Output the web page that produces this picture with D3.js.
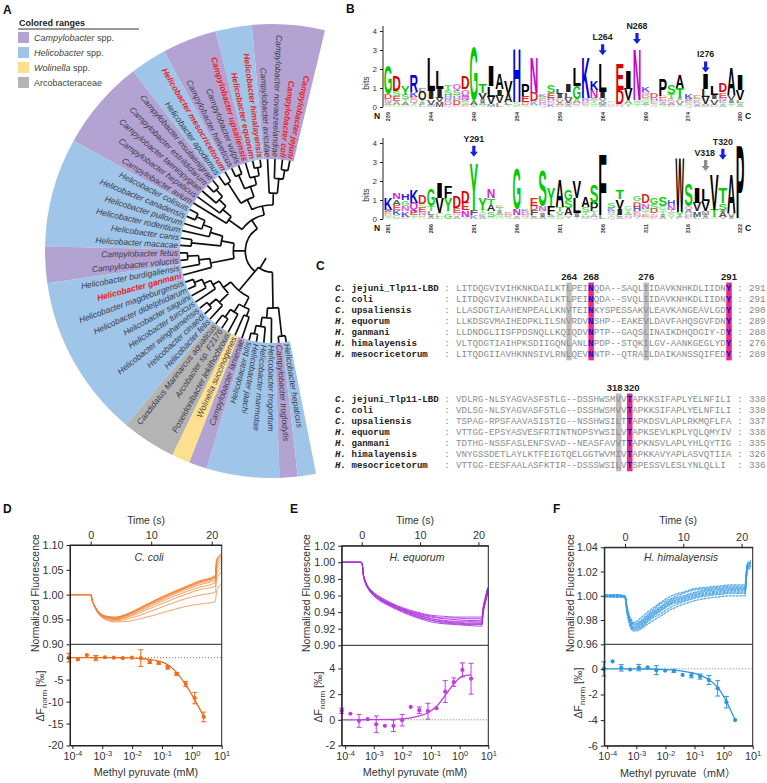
<!doctype html>
<html lang="en">
<head>
<meta charset="utf-8">
<script src="https://d3js.org/d3.v7.min.js"></script>
<title>Tlp11 ligand binding domains</title>
<style>
  html, body { margin: 0; padding: 0; background: #fff; }
  svg { display: block; font-family: "Liberation Sans", Arial, "Noto Sans CJK SC", sans-serif; }
  .tick text { fill: #333; }
  .domain, .tick line { stroke: #222; }
</style>
</head>
<body>
<svg id="fig" width="767" height="783"></svg>
<script>
// ---------- panel A data
const taxa = ["Campylobacter jejuni", "Campylobacter coli", "Campylobacter novaezeelandiae", "Campylobacter aviculae",
  "Helicobacter himalayensis", "Helicobacter equorum", "Campylobacter upsaliensis", "Campylobacter vulpis",
  "Campylobacter helveticus", "Helicobacter mesocricetorum", "Helicobacter apodemus", "Campylobacter insulaenigrae",
  "Campylobacter estrildidarum", "Campylobacter taeniopygiae", "Campylobacter hepaticus", "Campylobacter avium",
  "Helicobacter colisuis", "Helicobacter canadensis", "Helicobacter pullorum", "Helicobacter rodentium",
  "Helicobacter canis", "Helicobacter macacae", "Campylobacter fetus", "Campylobacter volucris",
  "Helicobacter burdigaliensis", "Helicobacter ganmani", "Helicobacter magdeburgensis", "Helicobacter didelphidarum",
  "Helicobacter saguini", "Helicobacter turcicus", "Helicobacter winghamensis", "Helicobacter cinaedi",
  "Helicobacter felis", "Candidatus Marinarcus aquaticus", "Arcobacter sp. F2176", "Poseidonibacter lekithochrous",
  "Wolinella succinogenes", "Campylobacter lanienae", "Helicobacter bilis", "Helicobacter jaachi",
  "Helicobacter marmotae", "Helicobacter trogontum", "Campylobacter troglodytis", "Helicobacter hepaticus"];
const redTaxa = [0, 1, 4, 5, 6, 9, 25];
const ranges = [[0, 4, "Campylobacter"], [4, 6, "Helicobacter"], [6, 9, "Campylobacter"], [9, 11, "Helicobacter"],
  [11, 16, "Campylobacter"], [16, 22, "Helicobacter"], [22, 24, "Campylobacter"], [24, 33, "Helicobacter"],
  [33, 36, "Arcobacteraceae"], [36, 37, "Wolinella"], [37, 38, "Campylobacter"], [38, 42, "Helicobacter"],
  [42, 43, "Campylobacter"], [43, 44, "Helicobacter"]];
const legendItems = ["Campylobacter", "Helicobacter", "Wolinella", "Arcobacteraceae"];
// [branch depth, children...] with numbers being indexes into taxa
const bottomClade = [.23,
  [.56,
    [.66, [.74, [.82, [.91, 26, 27], 28], 29], [.8, [.9, 30, 31], 32]],
    [.68, [.78, [.88, 33, 34], 35], [.76, 36, 37]]],
  [.62, [.73, [.83, [.92, 38, 39], 40], 41], [.93, 42, 43]]];
const treeData = [.29,
  [.4,
    [.5,
      [.63, [.79, [.89, 0, 1], 2], 3],
      [.62, [.74, [.83, [.92, 4, 5], 6], [.9, 7, 8]], [.88, 9, 10]]],
    [.58, [.7, [.8, [.9, 11, 12], 13], 14], 15]],
  [.42,
    [.56, [.7, [.8, [.9, 16, 17], 18], 19], [.88, 20, 21]],
    [.68, [.8, [.92, 22, 23], 24], 25]],
  bottomClade];

// ---------- panel B data: residues bottom to top, letter + bits
const logoTop = ["S.1 A.1 N.2 D.3 G1.5", "G.1 A.2 E.3 S.25 D.8", "G.1 A.15 T.15 S.25 Y.5", "S.1 T.1 Q.2 E.15 K.25 R.9",
  "L.1 I.1 T.15 O.45 F.2", "M.1 V.3 I.45 L1.8", "M.25 V.25 I.45 L.95", "Q.1 D.2 R.15 H.2 S.25 T.3",
  "E.1 D.25 H.2 N.1 S.3 Q.3", "E.1 S.15 A.1 N.3 Q.3 D.7", "S.12 A.23 G2.85", "S.1 A.1 I.2 V.35 T.5",
  "M.15 V.4 L.55 I1.1", "L.2 V.4 I.35 A.85", "T.1 L.15 A.4 I.05 V.7", "D.05 S.2 H2.85", "S.1 D.15 E.35 P.65",
  "G.1 K.2 D.45 N1.85", "Q.1 R.1 D.1 E.1 S.15 K.15", "K.15 N.1 D.1 R.15 E.25 S.4", "D.1 A.1 V.15 E.1 I.25 L.3",
  "A.1 M.1 V.3 L.3 I.4", "S.1 D.1 A.2 G.7 L1", "S.1 E.1 N.1 R.15 K2.15", "S.1 G.1 T.15 A.1 N.45 K.5",
  "A.1 M.15 V.2 I.35 L1.5", "D.05 S.08 N.07 G.05 E.05", "N.1 S.05 D.75 E1.4", "T.15 A.2 V.6 I.95",
  "T.1 G.1 S.15 N2.7", "T.1 A.1 G.15 S.15 D.15 N.15 K.3", "Q.05 S.1 E.1 G.05 H.15 D.3", "S.1 A.1 N.1 E.2 D.1 P.9",
  "D.1 A.1 Q.1 E.1 T.3 S.5", "S.1 V.2 L.05 I.1 T.55 A.7", "Q.1 S.1 E.1 A.1 K.25", "A.1 Q.1 K.1 S.1 E.2",
  "M.1 S.05 V.4 L.4 I.85", "D.1 V.3 I.25 L.5", "A.1 S.1 K.1 N.2 E.3 D.5", "T.1 S.1 I.15 V.3 A1.45", "A.1 S.1 L.15 V.55 I.8"];
const logoBottom = ["S.1 T.05 D.1 E.1 A.15 K.6", "G.2 K.25 E.3 A.3 N.35", "D.1 K.3 N.3 G.3 H.35", "T.1 S.1 E.25 Q.4 K.7",
  "G.1 D.1 N.15 E.25 S.2 D.45", "A.1 I.1 L.2 T.3 G.9", "L.1 C.2 V.8 I.8", "G.3 T.1 Y.7 F.6", "A.1 G.1 N.1 E.3 D.6",
  "S.1 N.35 E.4 D.6", "K.2 F.3 Y2.5", "A.1 K.1 S.1 T.2 Y.6", "G.1 S.3 A.35 T.35 N.45", "G.1 S.1 A.1 I.1 T.2 E.1",
  "S.1 D.1 E.1 A.05", "A.1 S.1 N.35 G2.15", "S.1 N.1 D.15 K.15", "A.1 L.1 F.25 D.25 E.4", "A.1 I.2 T.1 N.3 S1.85",
  "S.1 A.1 F.5 Y.95", "S.2 V.15 T.3 A1.45", "T.1 Q.1 A.4 S.4 G.55", "T.1 I.2 L.8 V.9", "M.1 G.1 T.15 S.3 A.55",
  "Q.1 A.1 T.2 P.45 S1", "L.2 F3.25", "Q.1 T.1 G.1 R.1 K.2 S.3", "A.1 L.1 I.35 V.5 T.5", "N.1 S.1 A.1 T.15 G.2",
  "Y.1 N.15 E.15 H.25 D.3 G.3", "G.1 E.15 T.1 S.2 N.3 D.45", "E.1 N.1 T.1 D.25 S.25 G.35", "A.1 I.1 T.2 Y.1 G.2 S.5",
  "Y.2 V.1 T.2 N.25 H.25", "F.1 Y.25 W2.95", "E.1 H.1 G.1 A.2 Q.2 S1.15", "L.1 M.3 V.45 I.8", "A.1 I.1 M.2 V.55 L.6",
  "S.1 T.4 V1.85", "V.1 A.25 I.15 S.35 T.8", "I.1 V.2 A2.1", "S.05 P3.9"];
const ticksTop = [239, 244, 249, 254, 259, 264, 269, 274, 280];
const ticksBottom = [281, 286, 291, 296, 301, 306, 311, 316, 322];
const arrowsTop = [["L264", 264, 3.3, "blue"], ["N268", 268, 3.9, "blue"], ["I276", 276, 2.4, "blue"]];
const arrowsBottom = [["Y291", 291, 3.85, "blue"], ["V318", 318, 3.1, "gray"], ["T320", 320, 3.7, "blue"]];

// ---------- panel C data
const speciesItalic = ["C.", "C.", "C.", "H.", "H.", "H.", "H."];
const speciesNames = ["jejuni_Tlp11-LBD", "coli", "upsaliensis", "equorum", "ganmani", "himalayensis", "mesocricetorum"];
const seqBlock1 = ["LITDQGVIVIHKNKDAILKTLPEINQDA--SAQLIIDAVKNHKDLIIDNY", "LITDQGVIVIHKNKDAILKTLPEINQDA--SVQLIIDAVKNHKDLIIDNY",
  "LLASDGTIAAHENPEALLKNVTEINKYSPESSAKVLEAVKANGEAVLGDY", "LLKDSGVMAIHEDPKLILSNVRDVNSHP--EAKEVLDAVFAHQSGVFDNY",
  "LLDNDGLIISFPDSNQLLKQIQDVNPTP--GAQSLINAIKDHQDGIY-DY", "VLTQDGTIAIHPKSDIIGQNLANLNPDP--STQKILGV-AANKGEGLYDY",
  "LITQDGIIAVHKNNSIVLRNLQEVNNTP--QTRAILDAIKANSSQIFEDY"];
const endBlock1 = [291, 291, 290, 289, 288, 276, 289];
const seqBlock2 = ["VDLRG-NLSYAGVASFSTLG--DSSHWSMVVTAPKKSIFAPLYELNFILI", "VDLSG-NLSYAGVASFSTLG--DSSHWSMVVTAPKKSIFAPLYELNFILI",
  "TSPAG-RPSFAAVASISTIG--NSSHWSILTTAPKDSVLAPLRKMQFLFA", "VTTGG-EPSYASVESFRTINTNDPSYWSILVTAPKSEVLKPLYQLQMYIV",
  "TDTHG-NSSFASLENFSVAD--NEASFAVVTTAPKNSVLAPLYHLQYTIG", "VNYGSSDETLAYLKTFEIGTQELGGTWVMIVTAPKKAVYAPLASVQTIIA",
  "VTTGG-EESFAALASFKTIR--DSSSWSILVTSPESSVLESLYNLQLLI"];
const endBlock2 = [338, 338, 337, 338, 335, 326, 336];
const marksBlock1 = [[20, "264", "gray"], [24, "268", "pink"], [34, "276", "gray"], [49, "291", "pink"]];
const marksBlock2 = [[29, "318", "gray"], [31, "320", "pink"]];

// ---------- panels D-F data
const conc = [0.0000763, 0.000153, 0.000305, 0.00061, 0.00122, 0.00244, 0.00488, 0.00977, 0.0195, 0.039, 0.078, 0.156, 0.3125, 0.625, 1.25, 2.5];
const doseD = [0, -0.4, 0.6, -0.1, 0.1, 0, -0.1, 0, -0.1, -1, -1.2, -2.2, -3.7, -6, -9.2, -13.5];
const errD = [1, 0, 0, 0.6, 0, 0, 0, 0, 1.9, 0.3, 0.3, 0.4, 0.3, 0.6, 1.3, 1.1];
const fitD = [0, 0, 0, 0, 0, 0, -0.02, -0.05, -0.2, -0.4, -0.8, -1.6, -3.4, -6.2, -9.6, -13.4];
const doseE = [0.7, 0.47, -0.08, 0.05, -0.35, -0.47, -0.47, -0.03, 1, 0.75, 0.67, 0.9, 2.2, 2.93, 3.88, 3.2];
const errE = [0.2, 0, 0.5, 0, 0.65, 0, 0.45, 0.45, 0, 0.25, 0.62, 0, 0.85, 0.33, 0.55, 1.2];
const fitE = [0, 0, 0, 0.01, 0.01, 0.02, 0.03, 0.07, 0.15, 0.3, 0.55, 1.05, 1.9, 2.8, 3.4, 3.5];
const doseF = [0, 0.58, 0.08, -0.05, 0.1, 0.12, -0.1, -0.13, -0.15, -0.47, -0.5, -0.6, -0.87, -1.52, -2.6, -4];
const errF = [0.55, 0, 0.25, 0, 0.25, 0, 0.35, 0, 0.12, 0, 0.2, 0.2, 0.35, 0.6, 0.45, 0];
const fitF = [0, 0, 0, 0, -0.01, -0.01, -0.03, -0.06, -0.1, -0.17, -0.3, -0.48, -0.85, -1.45, -2.55, -4];

const timeD = [-3.4, 0, 0.3, 0.7, 1.2, 2, 3, 4, 6, 8, 10, 12, 14, 16, 18, 20.6, 20.8, 21.2, 21.65];
const tracesD = [
  [1, 1, .986, .974, .963, .953, .947, .945, .946, .951, .957, .964, .971, .977, .981, .986, 1.006, 1.016, 1.022],
  [1, 1, .986, .974, .963, .954, .949, .947, .951, .958, .967, .976, .985, .993, .999, 1.005, 1.03, 1.04, 1.047],
  [1, 1, .986, .975, .964, .955, .951, .949, .954, .963, .973, .983, .993, 1.002, 1.01, 1.017, 1.04, 1.05, 1.056],
  [1, 1, .986, .975, .965, .956, .952, .95, .956, .966, .977, .988, .998, 1.007, 1.015, 1.024, 1.05, 1.058, 1.064],
  [1, 1, .986, .975, .966, .957, .953, .951, .958, .968, .98, .991, 1.002, 1.011, 1.02, 1.029, 1.055, 1.064, 1.069],
  [1, 1, .987, .976, .966, .957, .954, .952, .959, .97, .982, .993, 1.004, 1.014, 1.023, 1.033, 1.06, 1.068, 1.073],
  [1, 1, .987, .976, .966, .958, .954, .953, .96, .971, .983, .995, 1.005, 1.015, 1.025, 1.035, 1.064, 1.072, 1.076],
  [1, 1, .987, .976, .967, .958, .955, .954, .96, .972, .984, .996, 1.006, 1.016, 1.026, 1.036, 1.066, 1.075, 1.078],
  [1, 1, .987, .977, .967, .959, .955, .954, .961, .972, .985, .996, 1.007, 1.017, 1.027, 1.037, 1.068, 1.077, 1.08],
  [1, 1, .987, .977, .967, .959, .956, .955, .961, .973, .985, .997, 1.008, 1.018, 1.028, 1.039, 1.07, 1.079, 1.082]];
const timeE = [-3.4, -0.1, 0.05, 0.3, 0.6, 1, 1.5, 2, 3, 4, 6, 8, 10, 12, 14, 16, 18, 20.6, 20.8, 21.2, 21.6];
const tracesE = [
  [1, 1, .999, .985, .978, .972, .967, .964, .959, .955, .948, .943, .939, .936, .935, .934, .934, .934, .945, .958, .97],
  [1, 1, .999, .985, .978, .971, .967, .963, .958, .954, .947, .942, .938, .935, .933, .933, .932, .932, .944, .957, .969],
  [1, 1, .999, .985, .977, .971, .966, .963, .957, .953, .947, .941, .937, .934, .932, .931, .93, .93, .943, .956, .968],
  [1, 1, .999, .984, .977, .971, .966, .962, .957, .953, .946, .94, .936, .932, .93, .929, .929, .928, .942, .955, .967],
  [1, 1, .999, .984, .977, .97, .965, .962, .956, .952, .945, .94, .935, .932, .929, .928, .927, .927, .94, .954, .966],
  [1, 1, .999, .984, .976, .97, .965, .961, .956, .952, .945, .939, .934, .93, .928, .927, .926, .926, .939, .953, .965],
  [1, 1, .999, .984, .976, .97, .964, .96, .955, .951, .944, .938, .933, .93, .927, .926, .925, .925, .938, .952, .964],
  [1, 1, .999, .983, .975, .969, .964, .96, .954, .95, .943, .937, .932, .928, .926, .925, .924, .923, .937, .951, .962]];
const timeF = [-3.4, -1.5, -0.1, 0.1, 0.3, 0.6, 1, 1.5, 2.5, 4, 6, 8, 10, 12, 14, 16, 18, 20.6, 20.8, 21, 21.6];
const tracesF = [
  [1.001, 1.001, 1, .999, .993, .986, .981, .978, .981, .987, .994, 1, 1.003, 1.006, 1.007, 1.008, 1.009, 1.009, 1.02, 1.027, 1.029],
  [1, 1.001, 1, .998, .992, .985, .98, .977, .979, .985, .993, .998, 1.002, 1.005, 1.006, 1.007, 1.008, 1.008, 1.019, 1.026, 1.028],
  [1, 1, 1, .998, .991, .984, .979, .976, .978, .984, .991, .997, 1, 1.003, 1.005, 1.006, 1.007, 1.007, 1.018, 1.025, 1.027],
  [1, 1, 1, .998, .991, .984, .978, .975, .977, .983, .99, .996, .999, 1.002, 1.004, 1.005, 1.006, 1.006, 1.017, 1.025, 1.027],
  [1, 1, 1, .998, .99, .983, .977, .974, .976, .982, .989, .995, .998, 1.001, 1.003, 1.004, 1.005, 1.005, 1.016, 1.024, 1.026],
  [1, 1, .999, .997, .99, .982, .976, .973, .975, .981, .988, .994, .997, 1, 1.002, 1.003, 1.004, 1.004, 1.015, 1.023, 1.025],
  [1, 1, .999, .997, .989, .982, .975, .973, .974, .98, .987, .993, .996, .999, 1.001, 1.002, 1.003, 1.003, 1.015, 1.023, 1.025],
  [1, .999, .999, .997, .988, .981, .974, .972, .973, .979, .985, .991, .995, .998, 1, 1.001, 1.002, 1.002, 1.014, 1.022, 1.024],
  [.999, .999, .999, .996, .987, .98, .973, .971, .972, .977, .983, .989, .993, .996, .998, .999, 1, 1, 1.013, 1.021, 1.023]];

const svg = d3.select("#fig");
const ink = "#333";

function label(x, y, txt, size, opts = {}) {
  const t = svg.append("text").attr("x", x).attr("y", y).attr("font-size", size)
    .attr("fill", opts.fill || ink).attr("text-anchor", opts.anchor || "middle").text(txt);
  if (opts.bold) t.attr("font-weight", "bold");
  if (opts.italic) t.attr("font-style", "italic");
  if (opts.rotate) t.attr("transform", `rotate(${opts.rotate} ${x} ${y})`);
  return t;
}

[["A", 3, 14], ["B", 346, 13], ["C", 316, 270], ["D", 3, 513], ["E", 290, 513], ["F", 553, 513]]
  .forEach(d => label(d[1], d[2], d[0], 12, { anchor: "start", bold: true, fill: "#111" }));

// ---------- A: fan tree
function drawTree() {
  const cx = 272, cy = 251, innerR = 92, outerR = 227;
  const fill = { Campylobacter: "#b3a3d3", Helicobacter: "#9fc5e8", Wolinella: "#fde08f", Arcobacteraceae: "#b4b4b4" };
  const angle = d3.scaleLinear().domain([0, taxa.length]).range([13.5, -191.2]);
  const radius = d3.scaleLinear().domain([0, 1]).range([0, innerR]);
  const rad = a => a * Math.PI / 180;
  const polar = (a, r) => [cx + r * Math.sin(rad(a)), cy - r * Math.cos(rad(a))];

  const arc = d3.arc().innerRadius(innerR).outerRadius(outerR);
  svg.append("g").attr("transform", `translate(${cx},${cy})`).selectAll("path").data(ranges).join("path")
    .attr("d", d => arc({ startAngle: rad(angle(d[1])), endAngle: rad(angle(d[0])) }))
    .attr("fill", d => fill[d[2]]);

  // legend
  svg.append("text").attr("x", 19).attr("y", 26).attr("font-size", 9).attr("font-weight", "bold").attr("fill", "#222").text("Colored ranges");
  svg.append("line").attr("x1", 18).attr("x2", 139).attr("y1", 29).attr("y2", 29).attr("stroke", "#333");
  const leg = svg.append("g").selectAll("g").data(legendItems).join("g")
    .attr("transform", (d, i) => `translate(18,${32 + i * 15})`);
  leg.append("rect").attr("width", 11).attr("height", 11).attr("fill", d => fill[d]);
  const legText = leg.append("text").attr("x", 16).attr("y", 9).attr("font-size", 9).attr("fill", "#444");
  legText.append("tspan").attr("font-style", d => d === "Arcobacteraceae" ? "normal" : "italic").text(d => d);
  legText.append("tspan").text(d => d === "Arcobacteraceae" ? "" : " spp.");

  // branches
  const root = d3.hierarchy(treeData, d => Array.isArray(d) ? d.slice(1) : null);
  root.eachAfter(n => {
    if (!n.children) { n.a = angle(n.data + 0.5); n.r = radius(1); return; }
    n.r = radius(n.data[0]);
    n.a = n.data === bottomClade ? n.children[0].a : (n.children[0].a + n.children[n.children.length - 1].a) / 2;
  });
  const p = d3.path();
  root.each(n => {
    if (!n.children) return;
    const as = n.children.map(c => c.a);
    const start = polar(d3.min(as), n.r);
    p.moveTo(start[0], start[1]);
    p.arc(cx, cy, n.r, rad(d3.min(as) - 90), rad(d3.max(as) - 90));
    n.children.forEach(c => {
      const a = polar(c.a, n.r), b = polar(c.a, c.r);
      p.moveTo(a[0], a[1]); p.lineTo(b[0], b[1]);
    });
  });
  const s0 = polar(-145, radius(.23)), s1 = polar(-140, radius(.1));
  p.moveTo(s0[0], s0[1]); p.lineTo(s1[0], s1[1]);
  svg.append("path").attr("d", p.toString()).attr("fill", "none").attr("stroke", "#111").attr("stroke-width", 1.7);

  // taxon names read towards the centre, the last ones away from it
  svg.append("g").selectAll("text").data(taxa).join("text")
    .attr("font-size", 8.4).attr("font-style", "italic").attr("dy", ".33em")
    .attr("font-weight", (d, i) => redTaxa.includes(i) ? "bold" : "normal")
    .attr("fill", (d, i) => redTaxa.includes(i) ? "#ee1c25" : "#3a3a4a")
    .attr("text-anchor", (d, i) => angle(i + .5) < -170 ? "start" : "end")
    .attr("transform", (d, i) => {
      const a = angle(i + .5), q = polar(a, innerR + 2);
      return `translate(${q[0]},${q[1]}) rotate(${a < -170 ? a + 270 : a + 90})`;
    })
    .text(d => d);
}

// ---------- B: sequence logos
function drawLogo(rows, first, last, ticks, arrows, yZero, yFour) {
  const colour = { G: "#00cc00", S: "#00cc00", T: "#00cc00", Y: "#00cc00", C: "#00cc00", N: "#cc00cc", Q: "#cc00cc",
    K: "#0000dd", R: "#0000dd", H: "#0000dd", D: "#dd0000", E: "#dd0000" };
  const x = d3.scaleLinear().domain([first, last]).range([388, 740]);
  const y = d3.scaleLinear().domain([0, 4]).range([yZero, yFour]);
  const w = x(first + 1) - x(first), fs = 20, cap = 0.716 * fs;

  rows.forEach((row, i) => {
    let base = 0;
    row.split(" ").forEach(tok => {
      const bits = +tok.slice(1), yb = y(base);
      const px = yZero - y(bits);
      base += bits;
      const t = svg.append("text").attr("font-size", fs).attr("font-weight", "bold")
        .attr("fill", colour[tok[0]] || "#000")
        .attr("opacity", bits < 0.12 ? .25 : bits < 0.22 ? .4 : bits < .35 ? .65 : bits < .5 ? .85 : 1).text(tok[0]);
      const len = t.node().getComputedTextLength();
      t.attr("transform", `translate(${x(first + i) - w / 2},${yb}) scale(${w / len},${px / cap})`);
    });
  });

  const ax = svg.append("g").attr("transform", "translate(383,0)")
    .call(d3.axisLeft(y).ticks(4).tickSize(3).tickSizeOuter(0).tickFormat(d3.format("d")));
  ax.selectAll("text").attr("font-size", 8);
  ax.select(".domain").attr("d", `M0,${yZero}V${yFour - 5}`);
  label(369, (yZero + yFour) / 2 + 14, "bits", 8.5, { rotate: -90 });
  ticks.forEach(t => label(x(t) + 2, yZero + 5, t, 5.5, { rotate: -90, anchor: "end", bold: true }));
  label(377, yZero + 12, "N", 8.5, { bold: true, fill: "#111" });
  label(748, yZero + 12, "C", 8.5, { bold: true, fill: "#111" });

  arrows.forEach(a => {
    const ax0 = x(a[1]), y0 = y(a[2]), col = a[3] === "blue" ? "#1620e0" : "#8a8a8a";
    label(ax0 - (a[0] === "V318" ? 1 : 0), y0 - 4, a[0], 8.8, { bold: true, fill: "#222" });
    const q = d3.path();
    q.moveTo(ax0 - 1.6, y0); q.lineTo(ax0 + 1.6, y0); q.lineTo(ax0 + 1.6, y0 + 6); q.lineTo(ax0 + 4, y0 + 6);
    q.lineTo(ax0, y0 + 11); q.lineTo(ax0 - 4, y0 + 6); q.lineTo(ax0 - 1.6, y0 + 6); q.closePath();
    svg.append("path").attr("d", q.toString()).attr("fill", col);
  });
}

// ---------- C: alignment
function drawAlignment(seqs, ends, marks, firstRow) {
  const pitch = 5.515, seqX = 456, rowH = 11.05;
  const x = d3.scaleLinear().domain([0, 50]).range([seqX, seqX + 50 * pitch]);
  const y = d3.scaleLinear().domain([0, 7]).range([firstRow, firstRow + 7 * rowH]);
  marks.forEach(m => {
    svg.append("rect").attr("x", x(m[0])).attr("width", pitch).attr("y", y(0) - 8.5).attr("height", y(7) - y(0) + .5)
      .attr("fill", m[2] === "pink" ? "#ee2a82" : "#bdbdbd");
    label(x(m[0] + .5) + (m[1] === "318" ? -4 : m[1] === "320" ? 2 : 0), y(0) - 11.5, m[1], 9.5, { bold: true, fill: "#222" });
  });
  const mono = '"Liberation Mono", "DejaVu Sans Mono", monospace';
  const pink = marks.filter(m => m[2] === "pink").map(m => m[0]);
  seqs.forEach((s, r) => {
    const nm = svg.append("text").attr("x", 335).attr("y", y(r)).attr("font-family", mono).attr("font-size", 9.1)
      .attr("font-weight", "bold").attr("fill", "#222");
    nm.append("tspan").attr("font-style", "italic").text(speciesItalic[r]);
    nm.append("tspan").attr("dx", 5.5).text(speciesNames[r]);
    svg.append("text").attr("x", 447).attr("y", y(r)).attr("font-family", mono).attr("font-size", 9.2).attr("fill", "#888").attr("text-anchor", "middle").text(":");
    const t = svg.append("text").attr("x", seqX).attr("y", y(r)).attr("font-family", mono).attr("font-size", 9.19).attr("fill", "#8c8c8c");
    let from = 0;
    pink.concat([s.length]).forEach(pos => {
      t.append("tspan").text(s.slice(from, pos));
      if (pos < s.length) t.append("tspan").attr("fill", "#1414e0").attr("font-weight", "bold").text(s[pos]);
      from = pos + 1;
    });
    svg.append("text").attr("x", 740).attr("y", y(r)).attr("font-family", mono).attr("font-size", 9.2).attr("fill", "#888").attr("text-anchor", "middle").text(":");
    svg.append("text").attr("x", 749).attr("y", y(r)).attr("font-family", mono).attr("font-size", 9.2).attr("fill", "#888").text(ends[r]);
  });
}

// ---------- D, E, F: time traces above, dose response below
function drawAssay(o) {
  const x0 = o.left, x1 = o.right, yTop = o.top, yMid = o.mid, yBot = o.bottom;
  const tx = d3.scaleLinear().domain(o.timeDomain).range([x0, x1]);
  const fy = d3.scaleLinear().domain(o.fluoDomain).range([yMid, yTop]);
  const lx = d3.scaleLog().domain(o.doseX).range([x0, x1]);
  const dy = d3.scaleLinear().domain(o.doseY).range([yBot, yMid]);
  const axisFont = 10.8;

  const clipId = "clip" + o.id;
  svg.append("clipPath").attr("id", clipId).append("rect").attr("x", x0).attr("y", yTop).attr("width", x1 - x0).attr("height", yMid - yTop);

  const line = d3.line().x((d, i) => tx(o.time[i])).y(d => fy(d)).curve(d3.curveMonotoneX);
  svg.append("g").attr("clip-path", `url(#${clipId})`).selectAll("path").data(o.traces).join("path")
    .attr("d", line).attr("fill", "none").attr("stroke", o.traceColor)
    .attr("stroke-width", o.traceWidth).attr("stroke-opacity", .85)
    .attr("stroke-dasharray", o.traceDash || null);

  // zero line and dose response
  svg.append("line").attr("x1", x0).attr("x2", x1).attr("y1", dy(0)).attr("y2", dy(0))
    .attr("stroke", "#777").attr("stroke-width", 1).attr("stroke-dasharray", "1 2");
  const fit = d3.line().x((d, i) => lx(conc[i])).y(d => dy(d)).curve(d3.curveMonotoneX);
  svg.append("path").attr("d", fit(o.fit)).attr("fill", "none").attr("stroke", o.color).attr("stroke-width", 1.3);
  const g = svg.append("g").attr("stroke", o.color).attr("fill", o.color);
  o.dose.forEach((v, i) => {
    const px = lx(conc[i]);
    if (o.err[i]) {
      const a = dy(v - o.err[i]), b = dy(v + o.err[i]);
      g.append("line").attr("x1", px).attr("x2", px).attr("y1", a).attr("y2", b).attr("stroke-width", 1);
      g.append("line").attr("x1", px - 2.5).attr("x2", px + 2.5).attr("y1", a).attr("y2", a).attr("stroke-width", 1);
      g.append("line").attr("x1", px - 2.5).attr("x2", px + 2.5).attr("y1", b).attr("y2", b).attr("stroke-width", 1);
    }
    g.append("circle").attr("cx", px).attr("cy", dy(v)).attr("r", 2.1).attr("stroke", "none");
  });

  // axes
  const style = sel => {
    sel.selectAll("text").attr("font-size", axisFont);
    sel.selectAll("line,path").attr("stroke", "#222");
  };
  svg.append("g").attr("transform", `translate(0,${yTop})`)
    .call(d3.axisTop(tx).tickValues([0, 10, 20]).tickSize(3.5).tickSizeOuter(0).tickFormat(d3.format("d"))).call(style);
  svg.append("g").attr("transform", `translate(${x0},0)`)
    .call(d3.axisLeft(fy).tickValues(o.fluoTicks).tickSize(3.5).tickSizeOuter(0).tickFormat(d3.format(".2f"))).call(style);
  svg.append("g").attr("transform", `translate(${x0},0)`)
    .call(d3.axisLeft(dy).tickValues(o.doseTicks).tickSize(3.5).tickSizeOuter(0).tickFormat(d => String(d))).call(style);
  const bottom = svg.append("g").attr("transform", `translate(0,${yBot})`)
    .call(d3.axisBottom(lx).tickValues([1e-4, 1e-3, 1e-2, 1e-1, 1, 10]).tickSize(3.5).tickSizeOuter(0).tickFormat(() => "10")).call(style);
  bottom.selectAll(".tick text").append("tspan").attr("dy", "-.45em").attr("font-size", 7.5)
    .text(d => String(Math.round(Math.log10(d))));
  svg.append("rect").attr("x", x0).attr("y", yTop).attr("width", x1 - x0).attr("height", yBot - yTop)
    .attr("fill", "none").attr("stroke", "#222").attr("stroke-width", 1);
  svg.append("line").attr("x1", x0).attr("x2", x1).attr("y1", yMid).attr("y2", yMid).attr("stroke", "#222").attr("stroke-width", 1);

  label(o.centre, 524, "Time (s)", 10.4);
  label(o.centre, o.doseLabelY, o.doseLabel, 10.8);
  label(o.normX, 593, "Normalized Fluorescence", 10.4, { rotate: -90 });
  label(o.speciesX, 561, o.species, 10.5, { italic: true });
  const d = svg.append("text").attr("transform", `translate(${o.deltaX},${o.deltaY}) rotate(-90)`)
    .attr("text-anchor", "middle").attr("font-size", 10.5).attr("fill", ink);
  d.append("tspan").text("\u0394F");
  d.append("tspan").attr("dy", 2.5).attr("font-size", 8).text("norm");
  d.append("tspan").attr("dy", -2.5).text(" [\u2030]");
}

drawTree();
drawLogo(logoTop, 239, 280, ticksTop, arrowsTop, 107, 31);
drawLogo(logoBottom, 281, 322, ticksBottom, arrowsBottom, 219, 143);
drawAlignment(seqBlock1, endBlock1, marksBlock1, 291);
drawAlignment(seqBlock2, endBlock2, marksBlock2, 402);

drawAssay({ id: "D", left: 70, right: 221.7, top: 545, mid: 644.3, bottom: 745.5,
  timeDomain: [-3.42, 21.65], fluoDomain: [.9, 1.1], fluoTicks: [.9, .95, 1, 1.05, 1.1],
  doseX: [10 ** -4.08, 10], doseY: [-20, 3.05], doseTicks: [0, -5, -10, -15, -20],
  time: timeD, traces: tracesD, traceColor: "#f58238", traceWidth: .9,
  dose: doseD, err: errD, fit: fitD, color: "#f26a1b",
  centre: 146, doseLabelY: 776, doseLabel: "Methyl pyruvate (mM)", normX: 39, deltaX: 44, deltaY: 696, speciesX: 149, species: "C. coli" });
drawAssay({ id: "E", left: 341.7, right: 488.3, top: 545.7, mid: 645.3, bottom: 745.5,
  timeDomain: [-3.43, 21.7], fluoDomain: [.9, 1.02], fluoTicks: [.9, .92, .94, .96, .98, 1, 1.02],
  doseX: [10 ** -4.12, 10], doseY: [-2, 5.8], doseTicks: [-2, 0, 2, 4],
  time: timeE, traces: tracesE, traceColor: "#a92fe0", traceWidth: 1,
  dose: doseE, err: errE, fit: fitE, color: "#c23ce0",
  centre: 415, doseLabelY: 776, doseLabel: "Methyl pyruvate (mM)", normX: 310, deltaX: 322, deltaY: 697, speciesX: 417, species: "H. equorum" });
drawAssay({ id: "F", left: 604.3, right: 752.7, top: 547.3, mid: 644.3, bottom: 745.7,
  timeDomain: [-3.55, 21.9], fluoDomain: [.96, 1.04], fluoTicks: [.96, .98, 1, 1.02, 1.04],
  doseX: [10 ** -4.1, 10], doseY: [-6, 1.92], doseTicks: [0, -2, -4, -6],
  time: timeF, traces: tracesF, traceColor: "#3f9fe4", traceWidth: 1.3, traceDash: "3 .6",
  dose: doseF, err: errF, fit: fitF, color: "#2a96e0",
  centre: 678, doseLabelY: 777, doseLabel: "Methyl pyruvate\uff08mM\uff09", normX: 574, deltaX: 582, deltaY: 693, speciesX: 681, species: "H. himalayensis" });
</script>
</body>
</html>
